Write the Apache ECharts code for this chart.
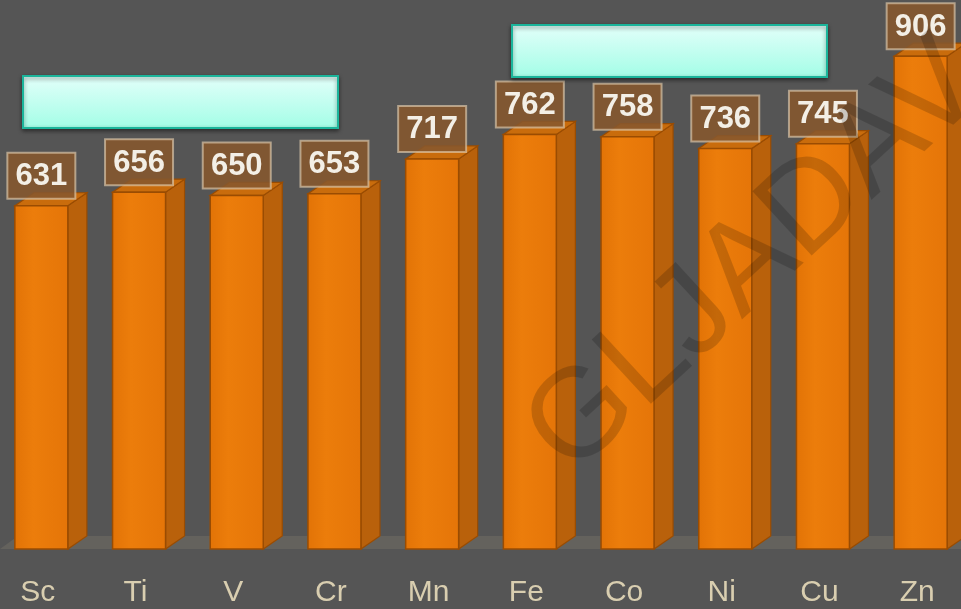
<!DOCTYPE html>
<html>
<head>
<meta charset="utf-8">
<script src="https://cdn.jsdelivr.net/npm/echarts@6/dist/echarts.min.js"></script>
<style>
html,body{margin:0;padding:0;background:#555555;overflow:hidden;width:961px;height:609px;}
#chart{position:absolute;left:-11px;top:0;width:977px;height:609px;}
</style>
</head>
<body>
<div id="chart"></div>
<script>
const categories = ['Sc', 'Ti', 'V', 'Cr', 'Mn', 'Fe', 'Co', 'Ni', 'Cu', 'Zn'];
const values = [631, 656, 650, 653, 717, 762, 758, 736, 745, 906];
const watermark = 'GLJADAV';

const OFF = 11; // container shifted left by this many pixels
const chart = echarts.init(document.getElementById('chart'));

function renderItem(params, api) {
  const idx = api.value(0);
  const val = api.value(1);
  const top = api.coord([idx, val]);
  const base = api.coord([idx, 0]);
  const cx = top[0] + 3.5;
  const half = 26.5;
  const x0 = cx - half, x1 = cx + half;
  const yT = top[1], yB = base[1];
  const dx = 19, dy = 13;
  const edge = '#9a4c02';
  const boxW = 68, boxH = 46;
  const boxBottom = yT - 7;
  return {
    type: 'group',
    children: [
      {
        type: 'polygon',
        shape: { points: [[x1, yT], [x1 + dx, yT - dy], [x1 + dx, yB - dy], [x1, yB]] },
        style: { fill: '#b9610b', stroke: edge, lineWidth: 1.2 }
      },
      {
        type: 'polygon',
        shape: { points: [[x0, yT], [x0 + dx, yT - dy], [x1 + dx, yT - dy], [x1, yT]] },
        style: { fill: '#c96c0c', stroke: edge, lineWidth: 1.2 }
      },
      {
        type: 'rect',
        shape: { x: x0, y: yT, width: x1 - x0, height: yB - yT },
        style: {
          fill: new echarts.graphic.LinearGradient(0, 0, 1, 0, [
            { offset: 0, color: '#e27306' },
            { offset: 0.35, color: '#ec7d0b' },
            { offset: 1, color: '#e57508' }
          ]),
          stroke: edge, lineWidth: 1.5
        }
      },
      {
        type: 'rect',
        shape: { x: cx - boxW / 2, y: boxBottom - boxH, width: boxW, height: boxH },
        style: { fill: 'rgba(134,88,46,0.88)', stroke: 'rgba(225,205,175,0.65)', lineWidth: 2 }
      },
      {
        type: 'text',
        style: {
          text: String(val),
          x: cx, y: boxBottom - boxH / 2 + 1,
          align: 'center', verticalAlign: 'middle',
          fill: '#f3efe6',
          fontSize: 31, fontWeight: 'bold', fontFamily: 'Liberation Sans, Arial, sans-serif'
        }
      }
    ]
  };
}

const cyanFill = () => new echarts.graphic.LinearGradient(0, 0, 0, 1, [
  { offset: 0, color: '#e4fffa' },
  { offset: 1, color: '#a2fde6' }
]);

const option = {
  backgroundColor: '#555555',
  animation: false,
  grid: { left: 0, right: 0, top: 5, bottom: 60, containLabel: false },
  xAxis: {
    type: 'category',
    data: categories,
    axisLine: { show: false },
    axisTick: { show: false },
    splitLine: { show: false },
    axisLabel: {
      color: '#d9ceb0', fontSize: 30, margin: 29,
      fontFamily: 'Liberation Sans, Arial, sans-serif', interval: 0
    }
  },
  yAxis: {
    type: 'value', min: 0, max: 1000, show: false, splitLine: { show: false }
  },
  graphic: [
    {
      type: 'polygon', z: -10, silent: true,
      shape: { points: [[OFF + 0, 549], [OFF + 18, 536], [OFF + 961, 536], [OFF + 961, 549]] },
      style: { fill: '#64625d' }
    },
    {
      type: 'rect', z: 50,
      shape: { x: OFF + 23, y: 76, width: 315, height: 52 },
      style: {
        fill: cyanFill(), stroke: '#1bb59b', lineWidth: 2,
        shadowBlur: 4, shadowColor: 'rgba(0,0,0,0.45)', shadowOffsetY: 2
      }
    },
    {
      type: 'rect', z: 50,
      shape: { x: OFF + 512, y: 25, width: 315, height: 52 },
      style: {
        fill: cyanFill(), stroke: '#1bb59b', lineWidth: 2,
        shadowBlur: 4, shadowColor: 'rgba(0,0,0,0.45)', shadowOffsetY: 2
      }
    },
    {
      type: 'text', z: 100, silent: true,
      x: OFF + 756, y: 259,
      rotation: Math.PI * 42.7 / 180,
      style: {
        text: watermark,
        align: 'center', verticalAlign: 'middle',
        fill: 'rgba(0,0,0,0.17)',
        fontSize: 127, fontFamily: 'Liberation Sans, Arial, sans-serif'
      }
    }
  ],
  series: [{
    type: 'custom',
    renderItem: renderItem,
    encode: { x: 0, y: 1 },
    z: 5,
    data: values.map((v, i) => [i, v])
  }]
};
chart.setOption(option);
</script>
</body>
</html>
